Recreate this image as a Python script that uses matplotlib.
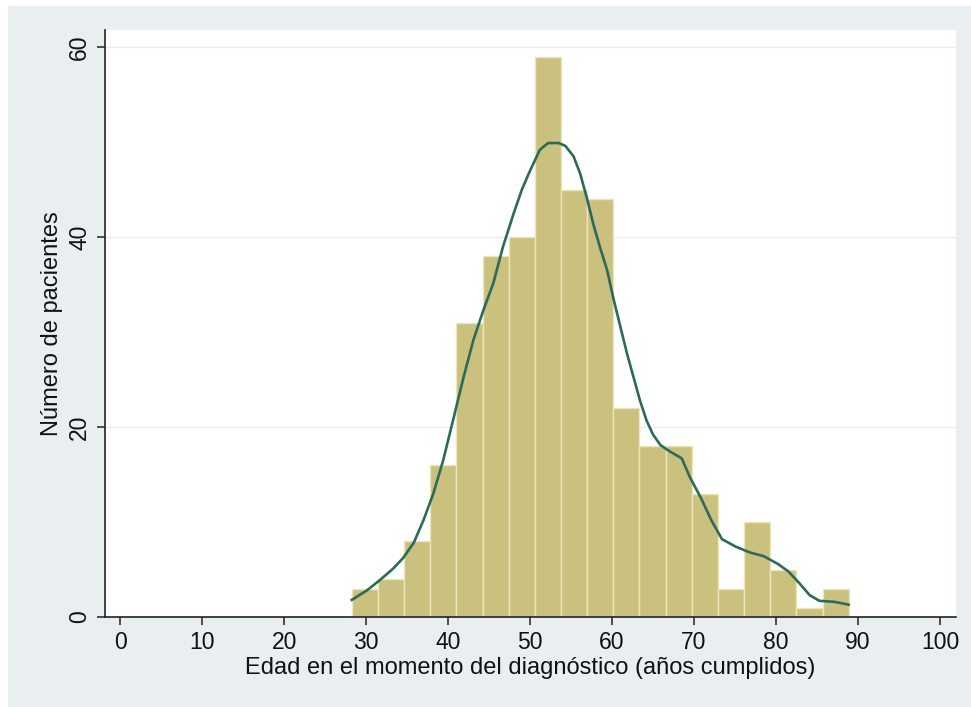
import numpy as np
import matplotlib
matplotlib.use("Agg")
import matplotlib.pyplot as plt
from matplotlib.patches import Rectangle

plt.rcParams['font.family'] = ['Liberation Sans', 'DejaVu Sans']

# histograma: 19 clases desde 28.25 años, ancho 3.19
bin_start = 28.25
bin_width = 3.19
counts = [3, 4, 8, 16, 31, 38, 40, 59, 45, 44, 22, 18, 18, 13, 3, 10, 5, 1, 3]

# curva de densidad (escala de frecuencias)
kd_x = [28.25, 30.1, 31.7, 33.3, 34.5, 35.8, 37.0, 38.2, 39.4, 40.6, 41.9, 43.1,
        44.3, 45.5, 46.7, 48.0, 49.0, 50.0, 51.2, 52.2, 53.5, 54.3, 55.3, 56.1,
        56.9, 57.7, 58.5, 59.4, 60.2, 61.0, 61.8, 62.6, 63.4, 64.2, 65.0, 65.9,
        67.1, 68.5, 69.5, 70.8, 72.1, 73.4, 75.1, 76.8, 78.5, 80.2, 81.5, 82.8,
        84.1, 85.3, 87.1, 88.85]
kd_y = [1.8, 2.8, 3.9, 5.1, 6.2, 7.8, 10.2, 13.0, 16.5, 20.7, 25.3, 29.2,
        32.3, 35.1, 39.0, 42.5, 45.0, 47.0, 49.2, 49.9, 49.9, 49.6, 48.5, 46.7,
        44.2, 41.4, 39.0, 36.5, 33.4, 30.6, 27.8, 25.3, 22.8, 20.7, 19.2, 18.1,
        17.4, 16.7, 14.7, 12.6, 10.2, 8.2, 7.4, 6.8, 6.4, 5.6, 4.8, 3.6,
        2.3, 1.7, 1.6, 1.3]

x_ticks = [0, 10, 20, 30, 40, 50, 60, 70, 80, 90, 100]
y_ticks = [0, 20, 40, 60]

bg = '#e9eef1'
fig = plt.figure(figsize=(9.71, 7.07), dpi=100, facecolor=bg)
# margen blanco arriba e izquierda
fig.patches.append(Rectangle((0, 0), 8 / 971, 1, transform=fig.transFigure,
                             facecolor='white', edgecolor='none', zorder=-1))
fig.patches.append(Rectangle((0, 1 - 6 / 707), 1, 6 / 707, transform=fig.transFigure,
                             facecolor='white', edgecolor='none', zorder=-1))

ax = fig.add_axes([105 / 971, 1 - 617 / 707, (956 - 105) / 971, (617 - 30) / 707])
ax.set_facecolor('white')

lefts = bin_start + bin_width * np.arange(len(counts))
ax.bar(lefts, counts, width=bin_width, align='edge', color='#cac17f',
       edgecolor='#ece6b8', linewidth=1.0, zorder=2)
ax.plot(kd_x, kd_y, color='#2e6a58', linewidth=1.9, zorder=3,
        solid_joinstyle='round')

ax.set_xlim(-1.85, 101.95)
ax.set_ylim(0, 61.8)
ax.set_xticks(x_ticks)
ax.set_yticks(y_ticks)
ax.set_yticklabels([str(v) for v in y_ticks], rotation=90, va='center')

for v in y_ticks[1:]:
    ax.axhline(v, color='#ececec', linewidth=1.0, zorder=1)

for s in ['top', 'right']:
    ax.spines[s].set_visible(False)
for s in ['left', 'bottom']:
    ax.spines[s].set_color('#222222')
    ax.spines[s].set_linewidth(1.2)
ax.tick_params(axis='both', direction='out', length=6, width=1.1, color='#222222',
               labelsize=16.5, labelcolor='#111111', pad=4)

ax.set_xlabel('Edad en el momento del diagnóstico (años cumplidos)', fontsize=17,
              color='#111111', labelpad=2)
ax.set_ylabel('Número de pacientes', fontsize=17, color='#111111', labelpad=4)

fig.savefig('out.png', dpi=100, facecolor=bg)
